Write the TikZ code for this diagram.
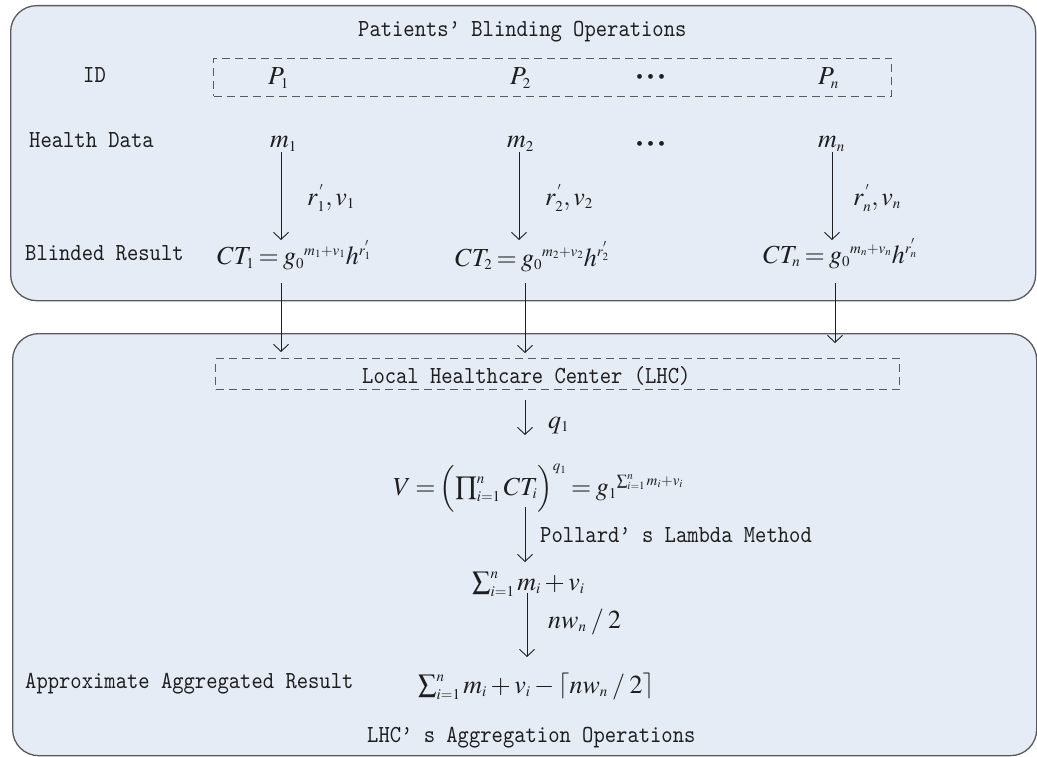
\documentclass[tikz,border=0pt]{standalone}
\usepackage{mathptmx}
\usepackage{fontspec}
\setmainfont{Liberation Serif}
\newfontfamily\monofont[FakeStretch=0.88]{lmmono10-regular.otf}
\DeclareMathSizes{26}{26}{15}{11}
\newcommand{\tightmath}{\thickmuskip=3mu\relax\medmuskip=2.5mu\relax}
\usetikzlibrary{arrows.meta}
\definecolor{boxfill}{HTML}{E6ECF6}
\definecolor{boxline}{HTML}{5A5A5A}
\definecolor{ink}{HTML}{1E1E1E}
\tikzset{
  panel/.style={draw=boxline, line width=1.3pt, fill=boxfill, rounded corners=26pt, inner sep=0pt, anchor=north west},
  dbox/.style={draw=boxline, line width=1pt, dash pattern=on 8pt off 5pt, inner sep=0pt, anchor=north west},
  lab/.style={font=\monofont\fontsize{24.5}{26}\selectfont, text=ink, inner sep=0pt, anchor=base west},
  mth/.style={font=\fontsize{26}{30}\selectfont\tightmath, text=ink, inner sep=0pt, anchor=base west},
  dotsn/.style={font=\fontsize{20}{20}\selectfont, text=ink, inner sep=0pt, anchor=base west},
  arr/.style={draw=ink, line width=0.9pt, -{Straight Barb[length=7pt,width=15pt]}},
}
\begin{document}
\begin{tikzpicture}[x=1pt,y=-1pt]
\path[use as bounding box] (0,0) rectangle (1037,757);
% panels
\node[panel, minimum width=1025pt, minimum height=295pt] (top) at (10,5) {};
\node[panel, minimum width=1024pt, minimum height=422pt] (bot) at (12,333) {};
% dashed boxes
\node[dbox, minimum width=678pt, minimum height=38pt] (idbox) at (213,58) {};
\node[dbox, minimum width=684pt, minimum height=31pt] (lhcbox) at (215,358) {};
% labels
\node[lab] (title) at (358,37) {Patients’ Blinding Operations};
\node[lab] (idl) at (83,83) {ID};
\node[lab] (hd) at (29,148) {Health Data};
\node[lab] (brl) at (25,260) {Blinded Result};
\node[lab] (lhct) at (362,383) {Local Healthcare Center (LHC)};
\node[lab] (pol) at (540,542) {Pollard’ s Lambda Method};
\node[lab] (aar) at (25,688) {Approximate Aggregated Result};
\node[lab] (agg) at (367,742) {LHC’ s Aggregation Operations};
% patients
\node[mth] (p1) at (268,85) {$P_1$};
\node[mth] (p2) at (510,85) {$P_2$};
\node[dotsn] (pd) at (636,84) {\textbullet\hspace{4pt}\textbullet\hspace{4pt}\textbullet};
\node[mth] (pn) at (818,85) {$P_n$};
\node[mth] (m1) at (270,148) {$m_1$};
\node[mth] (m2) at (507,148) {$m_2$};
\node[dotsn] (md) at (636,151) {\textbullet\hspace{4pt}\textbullet\hspace{4pt}\textbullet};
\node[mth] (mn) at (818,148) {$m_n$};
\node[mth] (r1) at (307,205) {$r_1^{\,'},v_1$};
\node[mth] (r2) at (545,205) {$r_2^{\,'},v_2$};
\node[mth] (rn) at (853,205) {$r_n^{\,'},v_n$};
\node[mth] (ct1) at (217,265) {$CT_1 = g_0{}^{m_1+v_1}h^{r_1^{'}}$};
\node[mth] (ct2) at (455,266) {$CT_2 = g_0{}^{m_2+v_2}h^{r_2^{'}}$};
\node[mth] (ctn) at (763,263) {$CT_n = g_0{}^{m_n+v_n}h^{r_n^{'}}$};
% aggregation
\node[mth] (q1) at (548,428) {$q_1$};
\node[mth] (vf) at (393,495) {$V=\Bigl(\prod\nolimits_{i=1}^{n}CT_i\Bigr)^{q_1}=g_1{}^{\sum_{i=1}^{n}m_i+v_i}$};
\node[mth] (sm) at (472,590) {$\sum\nolimits_{i=1}^{n}m_i+v_i$};
\node[mth] (nw) at (548,628) {$nw_n\;/\;2$};
\node[mth] (fin) at (418,693) {$\sum\nolimits_{i=1}^{n}m_i+v_i-\left\lceil nw_n\;/\;2\right\rceil$};
% arrow end points
\coordinate (s1) at (281,152); \coordinate (e1) at (281,240);
\coordinate (s2) at (519,152); \coordinate (e2) at (519,240);
\coordinate (sn) at (832,152); \coordinate (en) at (832,240);
\coordinate (t1) at (281,283); \coordinate (u1) at (281,352);
\coordinate (t2) at (525,283); \coordinate (u2) at (525,353);
\coordinate (tn) at (835,283); \coordinate (un) at (835,343);
\coordinate (qa) at (525,400); \coordinate (qb) at (525,435);
\coordinate (pa) at (525,507); \coordinate (pb) at (525,562);
\coordinate (na) at (527,593); \coordinate (nb) at (527,657);
% arrows
\draw[arr] (s1) -- (e1);
\draw[arr] (s2) -- (e2);
\draw[arr] (sn) -- (en);
\draw[arr] (t1) -- (u1);
\draw[arr] (t2) -- (u2);
\draw[arr] (tn) -- (un);
\draw[arr] (qa) -- (qb);
\draw[arr] (pa) -- (pb);
\draw[arr] (na) -- (nb);
\end{tikzpicture}
\end{document}
